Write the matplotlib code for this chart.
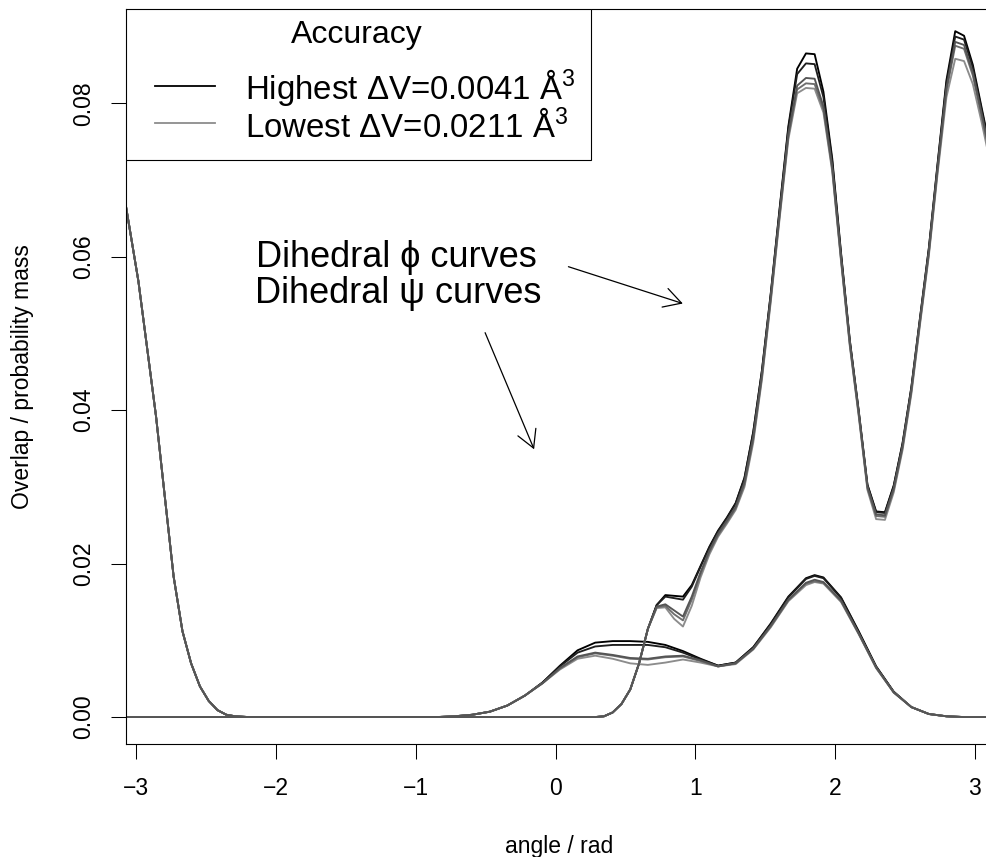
import matplotlib
matplotlib.use('Agg')
import matplotlib.pyplot as plt
from matplotlib.patches import Rectangle
from matplotlib.lines import Line2D

plt.rcParams['font.family'] = ['Liberation Sans', 'DejaVu Sans']
plt.rcParams['mathtext.fontset'] = 'custom'
plt.rcParams['mathtext.rm'] = 'Liberation Sans'
plt.rcParams['mathtext.it'] = 'Liberation Sans:italic'
plt.rcParams['mathtext.bf'] = 'Liberation Sans:bold'

# phi: left tail (same for every accuracy level)
phi_x_left = [-3.110, -3.047, -2.985, -2.922, -2.859, -2.796, -2.733, -2.670,
              -2.608, -2.545, -2.482, -2.419, -2.356, -2.293, -2.199]
phi_y_left = [0.0705, 0.0636, 0.0568, 0.0480, 0.0392, 0.0287, 0.0183, 0.0112,
              0.0070, 0.0040, 0.0021, 0.0009, 0.0003, 0.0001, 0.0000]

# phi: right part, shared rise then one list per accuracy level
phi_x_right = [0.283, 0.346, 0.408, 0.471, 0.534, 0.597, 0.660,
               0.723, 0.785, 0.848, 0.911, 0.974, 1.037, 1.100, 1.162, 1.225,
               1.288, 1.351, 1.414, 1.476, 1.539, 1.602, 1.665, 1.728, 1.791,
               1.853, 1.916, 1.979, 2.042, 2.105, 2.168, 2.231, 2.293, 2.356,
               2.419, 2.482, 2.545, 2.608, 2.670, 2.733, 2.796, 2.859, 2.922,
               2.985, 3.047, 3.110]
phi_rise = [0.0000, 0.0001, 0.0006, 0.0017, 0.0036, 0.0070, 0.0115]
phi_lvl0 = [.0146, .0159, .0158, .0157, .0172, .0197, .0222, .0243, .0260, .0279,
            .0312, .0372, .0452, .0552, .0662, .0770, .0845, .0865, .0864, .0815,
            .0728, .0605, .0491, .0400, .0303, .0268, .0267, .0302, .0357, .0430,
            .0522, .0611, .0722, .0830, .0894, .0888, .0850, .0795, .0740]
phi_lvl1 = [.0146, .0157, .0155, .0153, .0170, .0196, .0221, .0242, .0259, .0278,
            .0311, .0371, .0451, .0551, .0660, .0767, .0838, .0852, .0851, .0808,
            .0724, .0603, .0490, .0399, .0302, .0267, .0266, .0301, .0356, .0429,
            .0521, .0610, .0720, .0826, .0887, .0883, .0846, .0792, .0737]
phi_lvl2 = [.0144, .0147, .0139, .0131, .0157, .0189, .0217, .0239, .0256, .0274,
            .0306, .0365, .0446, .0547, .0655, .0760, .0823, .0833, .0832, .0796,
            .0717, .0598, .0487, .0397, .0300, .0264, .0263, .0298, .0353, .0426,
            .0518, .0606, .0716, .0820, .0880, .0876, .0840, .0787, .0733]
phi_lvl3 = [.0143, .0145, .0134, .0126, .0153, .0186, .0215, .0237, .0254, .0272,
            .0303, .0362, .0443, .0544, .0652, .0757, .0818, .0826, .0825, .0792,
            .0714, .0596, .0485, .0395, .0298, .0262, .0261, .0296, .0351, .0424,
            .0516, .0604, .0713, .0816, .0875, .0871, .0836, .0784, .0730]
phi_lvl4 = [.0142, .0143, .0128, .0118, .0145, .0182, .0212, .0235, .0252, .0270,
            .0300, .0358, .0440, .0541, .0649, .0753, .0813, .0820, .0819, .0788,
            .0711, .0594, .0483, .0393, .0296, .0258, .0257, .0293, .0348, .0421,
            .0513, .0601, .0709, .0808, .0858, .0855, .0825, .0776, .0722]

# psi curves
psi_x = [-3.110, -0.974, -0.848, -0.723, -0.597, -0.471, -0.346, -0.220,
         -0.094, 0.031, 0.157, 0.283, 0.408, 0.534, 0.660, 0.785, 0.911,
         1.037, 1.162, 1.288, 1.414, 1.539, 1.665, 1.791, 1.853, 1.916,
         2.042, 2.168, 2.293, 2.419, 2.545, 2.670, 2.796, 2.922, 3.110]
psi_lead = [0, 0, 0, 0.0001, 0.0003, 0.0007, 0.0015, 0.0028]
psi_lvl0 = [.0045, .0067, .0087, .0097, .0099, .0099, .0098, .0094, .0086, .0076,
            .0067, .0071, .0091, .0122, .0157, .0181, .0185, .0182, .0156, .0112,
            .0066, .0033, .0013, .0004, .0001, 0, 0]
psi_lvl1 = [.0045, .0066, .0084, .0092, .0094, .0094, .0094, .0091, .0084, .0075,
            .0067, .0071, .0091, .0121, .0156, .0180, .0184, .0181, .0155, .0111,
            .0066, .0033, .0013, .0004, .0001, 0, 0]
psi_lvl2 = [.0044, .0064, .0079, .0084, .0081, .0077, .0076, .0079, .0080, .0074,
            .0066, .0070, .0089, .0119, .0153, .0175, .0179, .0176, .0152, .0109,
            .0065, .0032, .0013, .0004, .0001, 0, 0]
psi_lvl3 = [.0044, .0063, .0078, .0083, .0080, .0076, .0075, .0078, .0079, .0073,
            .0066, .0070, .0089, .0118, .0152, .0174, .0177, .0175, .0151, .0109,
            .0064, .0032, .0013, .0004, .0001, 0, 0]
psi_lvl4 = [.0044, .0062, .0076, .0080, .0076, .0070, .0068, .0071, .0075, .0071,
            .0066, .0069, .0088, .0117, .0151, .0172, .0176, .0174, .0150, .0108,
            .0064, .0032, .0013, .0004, .0001, 0, 0]

level_colors = ['#000000', '#1e1e1e', '#555555', '#6e6e6e', '#8c8c8c']
draw_order = [0, 1, 4, 3, 2]
legend_labels = ['Highest \u0394V=0.0041 \u00c5$^3$', 'Lowest \u0394V=0.0211 \u00c5$^3$']

phi_levels = [phi_lvl0, phi_lvl1, phi_lvl2, phi_lvl3, phi_lvl4]
psi_levels = [psi_lvl0, psi_lvl1, psi_lvl2, psi_lvl3, psi_lvl4]

fig = plt.figure(figsize=(9.86, 8.57), dpi=100)
ax = fig.add_axes([0.12748, 0.13151, 0.87860, 0.85764])

phi_x = phi_x_left + phi_x_right
for i in draw_order:
    ax.plot(phi_x, phi_y_left + phi_rise + phi_levels[i], color=level_colors[i], lw=1.35)
    ax.plot(psi_x, psi_lead + psi_levels[i], color=level_colors[i], lw=1.35)

ax.set_xlim(-3.076, 3.122)
ax.set_ylim(-0.00355, 0.09225)

ax.set_xticks([-3, -2, -1, 0, 1, 2, 3])
ax.set_yticks([0, 0.02, 0.04, 0.06, 0.08])
ax.set_yticklabels(['0.00', '0.02', '0.04', '0.06', '0.08'])
ax.tick_params(axis='both', direction='out', length=10.8, width=0.75, labelsize=16.5)
ax.tick_params(axis='x', pad=13.0)
ax.tick_params(axis='y', pad=11.4, labelrotation=90)
for lbl in ax.get_yticklabels():
    lbl.set_va('center')
for sp in ax.spines.values():
    sp.set_linewidth(0.8)
    sp.set_color('black')

ax.set_xlabel('angle / rad', fontsize=16.5)
ax.set_ylabel('Overlap / probability mass', fontsize=16.5)
ax.xaxis.set_label_coords(0.5, -0.1235)
ax.yaxis.set_label_coords(-0.1059, 0.5)

# annotations
ax.text(-1.1365, 0.05871, 'Dihedral \u03d5 curves', fontsize=26, ha='center', va='baseline')
ax.text(-1.13, 0.05394, 'Dihedral \u03c8 curves', fontsize=26, ha='center', va='baseline')
arrow = dict(arrowstyle='->,head_length=1.25,head_width=0.7', lw=0.9, color='black',
             shrinkA=0, shrinkB=0, mutation_scale=10)
ax.annotate('', xy=(0.910, 0.0539), xytext=(0.0916, 0.0587), arrowprops=arrow)
ax.annotate('', xy=(-0.154, 0.0349), xytext=(-0.5045, 0.0501), arrowprops=arrow)

# legend box in R style
ax.add_patch(Rectangle((0, 0.795), 0.5368, 0.205, transform=ax.transAxes,
                       facecolor='white', edgecolor='black', lw=0.8, zorder=5))
ax.text(0.2667, 0.9546, 'Accuracy', transform=ax.transAxes, fontsize=23,
        ha='center', va='baseline', zorder=6)
for color, label, ly, ty in [(level_colors[0], legend_labels[0], 0.8956, 0.8776),
                             (level_colors[4], legend_labels[1], 0.8457, 0.8259)]:
    ax.add_line(Line2D([0.0338, 0.1031], [ly, ly], transform=ax.transAxes,
                       color=color, lw=1.3, zorder=6))
    ax.text(0.1377, ty, label, transform=ax.transAxes, fontsize=23.8,
            ha='left', va='baseline', zorder=6)

fig.savefig('out.png', dpi=100)
